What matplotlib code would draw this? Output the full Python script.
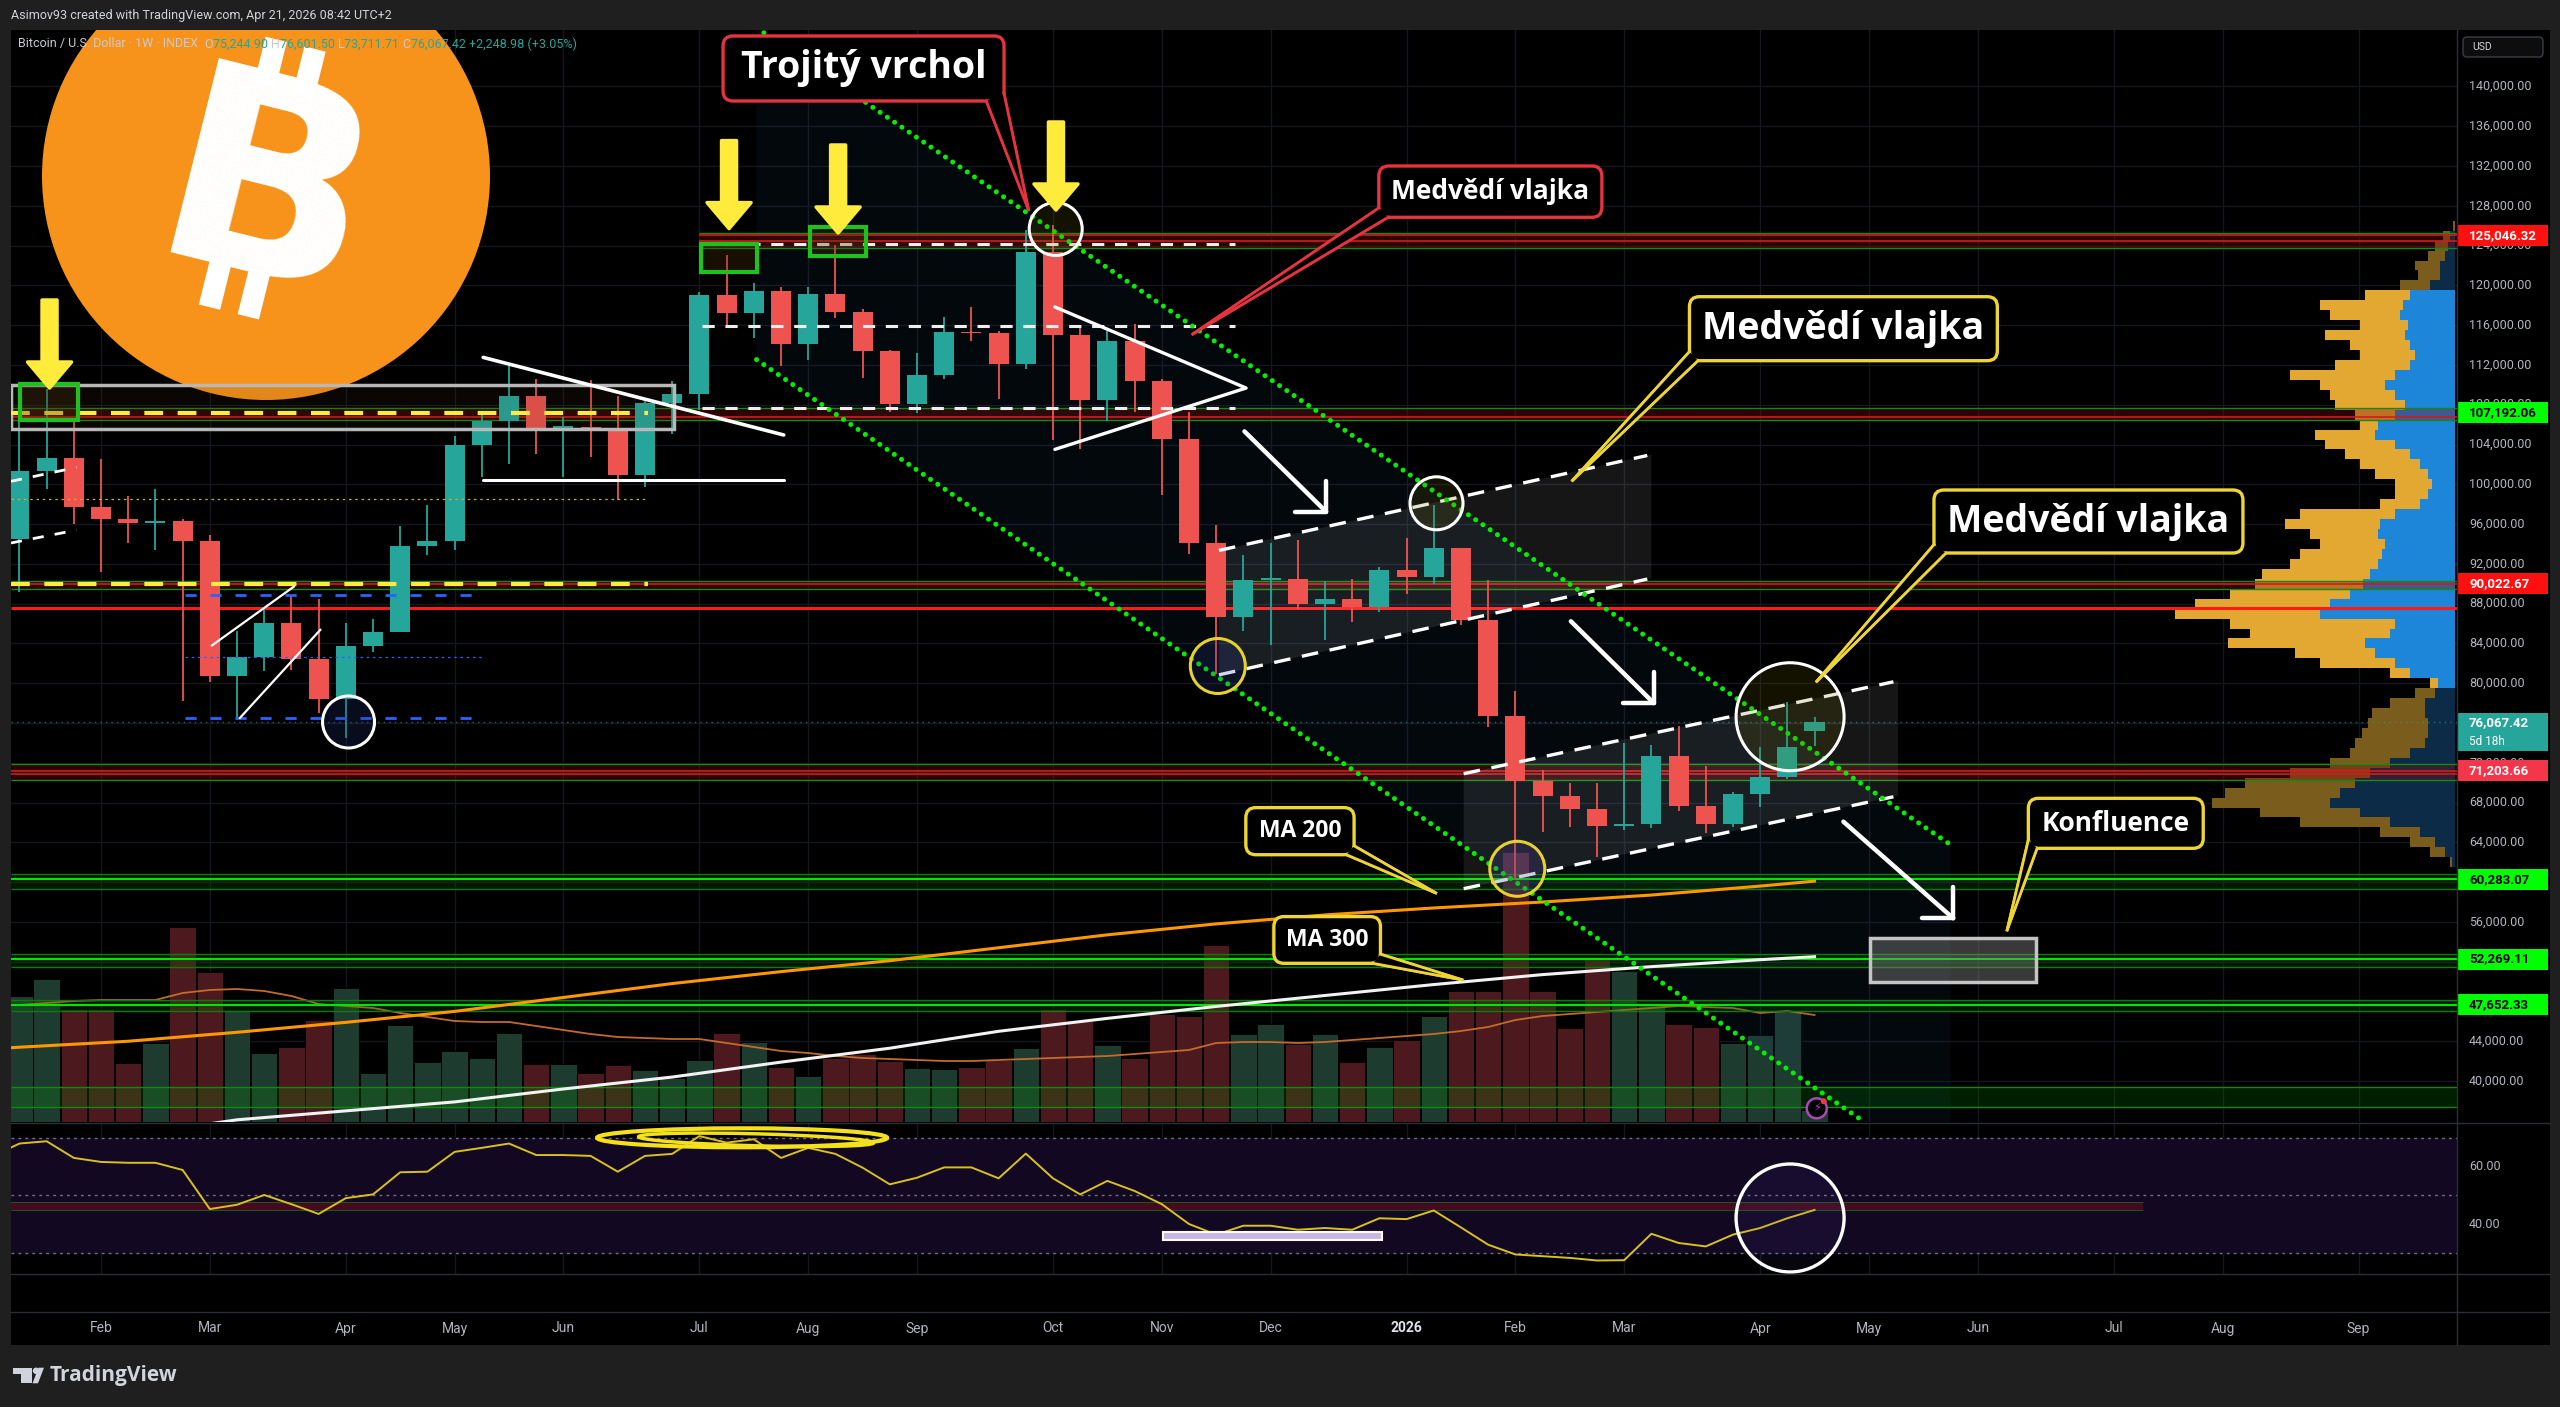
import matplotlib
matplotlib.use("Agg")
import matplotlib.pyplot as plt
from matplotlib.patches import Rectangle, Polygon, FancyBboxPatch, Circle, Ellipse
from matplotlib.lines import Line2D
from matplotlib.transforms import IdentityTransform, blended_transform_factory
import numpy as np

# ======================= DATA =======================
# weekly bars, week 0 = week of 3 Feb 2025
weeks = list(range(-3, 64))
opens = [94500, 101300, 102600, 97700, 96500, 96100, 96300, 94300, 80700, 82600,
         86100, 82400, 78400, 83700, 85100, 93800, 94300, 104000, 106400, 108900,
         105700, 105800, 105500, 100900, 108200, 109100, 119000, 117200, 119400, 114100,
         119100, 117300, 113400, 108100, 111000, 115300, 115200, 112100, 123400, 115000,
         108500, 114400, 110400, 104600, 94100, 86700, 90400, 90500, 88000, 88500,
         87700, 91400, 90700, 93550, 86400, 76700, 70200, 68700, 67400, 65600,
         65800, 72700, 67700, 65800, 68900, 70600, 75244.90]
highs = [106400, 109600, 106400, 102500, 98800, 99500, 96500, 94900, 85300, 87400,
         88800, 88500, 86100, 86500, 95800, 97900, 104900, 107100, 111900, 110600,
         106800, 110500, 108900, 108500, 110400, 119300, 123100, 120200, 119800, 119800,
         124100, 117600, 113500, 113200, 116800, 117800, 115400, 125600, 126100, 116000,
         115400, 116100, 110600, 107300, 95900, 92900, 94100, 94400, 90300, 90500,
         91700, 94600, 97900, 93600, 90400, 79200, 71300, 70000, 70000, 74000,
         73800, 75700, 71700, 69100, 73600, 78100, 76601.50]
lows = [89200, 99500, 96000, 91200, 94100, 93400, 78200, 80100, 76600, 81200,
        81300, 77000, 74500, 83100, 85100, 92900, 93400, 100700, 102000, 103000,
        100700, 102700, 98400, 99700, 105100, 107500, 115700, 114700, 111900, 112500,
        116700, 110700, 107300, 107200, 110600, 114400, 108600, 111600, 104500, 103500,
        106400, 107300, 98900, 93000, 80900, 85300, 83800, 87500, 84300, 86200,
        87200, 89000, 90000, 85900, 75600, 60200, 65000, 65500, 62500, 65200,
        65400, 67200, 64950, 65500, 67600, 70400, 73711.71]
closes = [101300, 102600, 97700, 96500, 96100, 96300, 94300, 80700, 82600, 86100,
          82400, 78400, 83700, 85100, 93800, 94300, 104000, 106400, 108900, 105700,
          105800, 105500, 100900, 108200, 109100, 119000, 117200, 119400, 114100, 119100,
          117300, 113400, 108100, 111000, 115300, 115200, 112100, 123400, 115000, 108500,
          114400, 110400, 104600, 94100, 86700, 90400, 90500, 88000, 88500, 87700,
          91400, 90700, 93550, 86400, 76700, 70200, 68700, 67400, 65600, 65800,
          72700, 67700, 65800, 68900, 70600, 73600, 76067.42]
volume = [126, 143, 113, 113, 59, 79, 195, 150, 111, 69, 75, 102, 134, 49, 97, 60, 71,
          64, 89, 58, 58, 49, 57, 52, 44, 62, 89, 80, 55, 46, 64, 68, 61, 54, 53, 55,
          62, 74, 113, 101, 77, 64, 108, 106, 177, 88, 98, 78, 88, 60, 75, 82, 106,
          131, 131, 270, 131, 94, 164, 151, 117, 98, 95, 79, 87, 112, 12]
volume_ma = [117, 119, 121, 122, 122, 122, 129, 132, 133, 131, 126, 118, 116, 114, 109,
             105, 101, 100, 100, 96, 92, 88, 85, 84, 83, 83, 79, 75, 71, 69, 66, 64, 63,
             62, 61, 61, 62, 63, 64, 65, 66, 68, 70, 72, 79, 80, 80, 79, 80, 82, 84, 86,
             88, 91, 95, 102, 106, 108, 110, 112, 114, 116, 115, 114, 109, 111, 107]
rsi_weeks = list(range(-4, 64))
rsi_values = [63.5, 68.0, 68.8, 63.0, 61.6, 61.3, 61.3, 58.8, 45.2, 46.7, 50.1,
              46.9, 43.5, 49.0, 50.3, 58.0, 58.2, 65.1, 66.5, 68.0, 64.0,
              64.0, 63.7, 58.2, 63.7, 64.4, 70.6, 68.3, 69.5, 63.0, 66.5,
              64.4, 59.6, 53.8, 56.1, 59.7, 59.7, 55.9, 64.5, 55.9, 50.3,
              55.0, 51.5, 46.9, 40.0, 36.3, 39.4, 39.4, 38.0, 38.6, 38.0,
              42.0, 41.7, 44.7, 38.8, 32.8, 29.4, 28.8, 28.2, 27.3, 27.4,
              36.6, 33.4, 32.2, 36.3, 38.6, 42.0, 44.9]
ma200_weeks = [-4, -3, 1, 5, 9, 13, 17, 21, 25, 29, 33, 37, 41, 45, 49, 53, 57, 61, 63]
ma200_values = [43250, 43400, 44000, 44900, 45900, 47000, 48400, 49800, 51000, 52100,
                53400, 54700, 55800, 56700, 57400, 58000, 58700, 59600, 60100]
ma300_weeks = [4, 5, 9, 13, 17, 21, 25, 29, 33, 37, 41, 45, 49, 53, 57, 61, 63]
ma300_values = [35700, 36100, 37000, 37900, 39200, 40400, 41900, 43300, 45000, 46300,
                47500, 48600, 49700, 50700, 51500, 52200, 52500]
month_weeks = [0, 4, 9, 13, 17, 22, 26, 30, 35, 39, 43, 48, 52, 56, 61, 65, 69, 74, 78, 83]
month_labels = ["Feb", "Mar", "Apr", "May", "Jun", "Jul", "Aug", "Sep", "Oct", "Nov", "Dec",
                "2026", "Feb", "Mar", "Apr", "May", "Jun", "Jul", "Aug", "Sep"]
price_ticks = list(range(40000, 140001, 4000))
vp_levels = list(range(62000, 127000, 1000))
vp_total = [5, 25, 45, 75, 155, 195, 243, 230, 210, 165, 125, 105, 100, 93, 87, 83, 65,
            40, 25, 65, 135, 160, 227, 205, 225, 280, 260, 225, 200, 193, 165, 155, 135,
            145, 170, 155, 75, 60, 60, 80, 95, 110, 130, 140, 95, 100, 120, 125, 135, 165,
            120, 95, 105, 130, 95, 125, 135, 90, 55, 37, 40, 27, 20, 12, 2]
vp_up = [3, 10, 20, 35, 65, 95, 125, 115, 100, 85, 65, 45, 30, 27, 27, 30, 30, 20, 17,
         45, 60, 80, 90, 65, 60, 135, 125, 105, 92, 85, 77, 73, 70, 77, 75, 60, 35, 27,
         23, 27, 35, 45, 60, 80, 77, 60, 50, 60, 70, 60, 45, 40, 45, 50, 47, 55, 52, 45,
         25, 15, 15, 10, 7, 5, 0]
tag_values = [125046.32, 107192.06, 90022.67, 71203.66, 60283.07, 52269.11, 47652.33]
tag_colors = ["#ff1010", "#00ff00", "#ff1010", "#f5364a", "#00ff00", "#00ff00", "#00ff00"]
tag_text_colors = ["white", "black", "white", "white", "black", "black", "black"]
change_text = "+2,248.98 (+3.05%)"

# ======================= LAYOUT =======================
W, H, DPI = 2560, 1407, 100
fig = plt.figure(figsize=(W / DPI, H / DPI), dpi=DPI, facecolor="#1f1f1f")
ID = IdentityTransform()
UI = ["Roboto", "DejaVu Sans"]
LBL = ["Open Sans", "DejaVu Sans"]

def rect(x0, y0, x1, y1):
    return [x0 / W, 1 - y1 / H, (x1 - x0) / W, (y1 - y0) / H]

def clean(a):
    a.set_xticks([]); a.set_yticks([])
    for s in a.spines.values():
        s.set_visible(False)

PX0, PX1, SX1 = 11, 2457, 2550
PY0, PY1 = 30, 1122
RY0, RY1 = 1124, 1274
TY0, TY1 = 1312, 1345
XLIM = (-3.31, 86.62)
YLIM = (35880, 145680)
RLIM = (22.6, 74.8)

bg = fig.add_axes(rect(PX0, PY0, SX1, TY1)); bg.set_facecolor("black"); clean(bg); bg.set_zorder(-5)

ax_v = fig.add_axes(rect(PX0, PY0, PX1, PY1)); clean(ax_v); ax_v.patch.set_alpha(0); ax_v.set_zorder(1)
ax_vp = fig.add_axes(rect(PX0, PY0, PX1, PY1)); clean(ax_vp); ax_vp.patch.set_alpha(0); ax_vp.set_zorder(2)
ax = fig.add_axes(rect(PX0, PY0, PX1, PY1)); clean(ax); ax.patch.set_alpha(0); ax.set_zorder(3)
for a in (ax_v, ax):
    a.set_xlim(XLIM)
ax.set_ylim(YLIM)
ax_v.set_ylim(0, PY1 - PY0)
ax_vp.set_xlim(PX1 - PX0 - 2, -2)
ax_vp.set_ylim(YLIM)

def D(w, p, a=None):
    return (a or ax).transData.transform((w, p))

# ---- grid ----
hb = blended_transform_factory(ax_v.transAxes, ax.transData)
for p in price_ticks:
    ax_v.add_line(Line2D([0, 1], [p, p], transform=hb, color="#14171d", lw=1, zorder=0))
for w in month_weeks:
    ax_v.axvline(w, color="#14171d", lw=1, zorder=0)

# ---- volume ----
vcol = ["#1e3b30" if c >= o else "#4c1a1e" for o, c in zip(opens, closes)]
ax_v.bar(weeks, volume, width=0.97, color=vcol, edgecolor="black", lw=0.6, zorder=2)
ax_v.plot(weeks, volume_ma, color="#c46a2a", lw=1.3, zorder=3)

# ---- volume profile ----
for lev, tot, up in zip(vp_levels, vp_total, vp_up):
    va_ = 80000 <= lev <= 119000
    ax_vp.barh(lev, up, height=1000, left=0, color="#1e86d8" if va_ else "#0c2b47", lw=0, zorder=1)
    ax_vp.barh(lev, tot - up, height=1000, left=up, color="#e2a832" if va_ else "#7a5c1c", lw=0, zorder=1)

# ---- descending channel fill ----
up_a, up_b = (24.37, 145400), (68.0, 63760)
lo_a, lo_b = (24.1, 112540), (64.8, 35940)
def on_line(a, b, w):
    return a[1] + (b[1] - a[1]) * (w - a[0]) / (b[0] - a[0])
chan = [(lo_a[0], on_line(up_a, up_b, lo_a[0])), up_b, (up_b[0], YLIM[0]), (lo_b[0], YLIM[0]), lo_a]
ax.add_patch(Polygon(chan, closed=True, facecolor=(0.15, 0.35, 0.6, 0.09), edgecolor="none", zorder=1))

# ---- horizontal zones ----
red_zones = [(123800, 125300, [125046, 124500], 22), (106450, 107650, [106800], XLIM[0]),
             (89500, 90300, [89950], XLIM[0]), (70310, 71880, [71204, 70900], XLIM[0])]
for lo, hi, reds, x0 in red_zones:
    ax.fill_between([x0, XLIM[1]], lo, hi, color=(0.5, 0.03, 0.05, 0.35), lw=0, zorder=1.2)
    ax.hlines([lo, hi], x0, XLIM[1], colors="#138a13", lw=1, zorder=1.3)
    ax.hlines(reds, x0, XLIM[1], colors="#d01c1c", lw=1.2, zorder=1.3)
green_zones = [(59300, 60800, 60283), (51500, 52800, 52269), (47000, 48150, 47652)]
for lo, hi, mid in green_zones:
    ax.fill_between(XLIM, lo, hi, color=(0.0, 0.45, 0.0, 0.22), lw=0, zorder=1.2)
    ax.hlines([lo, hi], *XLIM, colors="#0f7a0f", lw=1, zorder=1.3)
    ax.hlines(mid, *XLIM, colors="#00e600", lw=1.5, zorder=1.3)
ax.fill_between(XLIM, 37420, 39370, color=(0.0, 0.6, 0.0, 0.2), lw=0, zorder=1.2)
ax.hlines([37420, 39370], *XLIM, colors="#0f8a0f", lw=1, zorder=1.3)
ax.hlines(87580, *XLIM, colors="#ff1a1a", lw=2.2, zorder=1.4)
ax.hlines(closes[-1], *XLIM, colors="#26a69a", lw=1, linestyles=(0, (1, 3)), alpha=0.6, zorder=1.4)

# ---- bitcoin logo ----
cx, cy = 266, H - 176
ax.add_patch(Circle((cx, cy), 224, transform=ID, facecolor="#f7931a", edgecolor="none", zorder=1.8))
ang = np.deg2rad(-14)
RM = np.array([[np.cos(ang), -np.sin(ang)], [np.sin(ang), np.cos(ang)]])
bcx, bcy = 270, H - 180
def rot(dx, dy):
    v = RM @ np.array([dx, dy])
    return (bcx + v[0], bcy + v[1])
hB = 200
bx, by = rot(0, -hB / 2)
ax.text(bx, by, "B", transform=ID, fontsize=197, fontweight="bold", color="white", ha="center",
        va="baseline", rotation=-14, rotation_mode="anchor", family="DejaVu Sans", zorder=1.9, clip_on=True)
for bxo in (-28, 12):
    for ya, yb in ((hB / 2 - 10, hB / 2 + 38), (-hB / 2 - 38, -hB / 2 + 10)):
        pts = [rot(bxo - 11, ya), rot(bxo + 11, ya), rot(bxo + 11, yb), rot(bxo - 11, yb)]
        ax.add_patch(Polygon(pts, transform=ID, facecolor="white", edgecolor="none", zorder=1.9))

# ---- bear flag fills ----
ax.add_patch(Polygon([(41.1, 80840), (57.0, 90560), (57.0, 102990), (41.1, 93350)], facecolor=(1, 1, 1, 0.09), edgecolor="none", zorder=1.5))
ax.add_patch(Polygon([(50.1, 59340), (66.07, 68680), (66.07, 80240), (50.1, 70900)], facecolor=(1, 1, 1, 0.09), edgecolor="none", zorder=1.5))

# ---- moving averages ----
ax.plot(ma200_weeks, ma200_values, color="#ff9800", lw=2.2, zorder=3)
ax.plot(ma300_weeks, ma300_values, color="#f2f2f2", lw=2.2, zorder=3)

# ---- candles ----
ccol = ["#26a69a" if c >= o else "#ef5350" for o, c in zip(opens, closes)]
ax.vlines(weeks, lows, highs, colors=ccol, lw=1.3, zorder=4.9)
bodies = [max(abs(c - o), 150) for o, c in zip(opens, closes)]
ax.bar(weeks, bodies, bottom=[min(o, c) for o, c in zip(opens, closes)], width=0.74, color=ccol, lw=0, zorder=5)

# ---- drawings helpers ----
def dl(pts, color, lw, dashes=None, z=6, a=None):
    a = a or ax
    xs, ys = zip(*pts)
    ln, = a.plot(xs, ys, color=color, lw=lw, zorder=z, solid_capstyle="round")
    if dashes:
        ln.set_dashes(dashes)
    return ln

def circ(center, r, edge, face, lw=2.2, a=None, z=7):
    a = a or ax
    c = a.transData.transform(center)
    a.add_patch(Circle(c, r, transform=ID, facecolor=face, edgecolor=edge, lw=lw, zorder=z))

def block_arrow(tip, length=88, shaft=15, head_w=44, head_l=26):
    tx, ty = D(*tip)
    pts = [(tx, ty), (tx - head_w / 2, ty + head_l), (tx - shaft / 2, ty + head_l), (tx - shaft / 2, ty + length),
           (tx + shaft / 2, ty + length), (tx + shaft / 2, ty + head_l), (tx + head_w / 2, ty + head_l)]
    ax.add_patch(Polygon(pts, closed=True, transform=ID, facecolor="#ffeb3b", edgecolor="#ffeb3b", lw=2.5, joinstyle="round", zorder=8))

def white_arrow(tail, tip):
    x0, y0 = D(*tail); x1, y1 = D(*tip)
    for seg in (((x0, y0), (x1, y1)), ((x1, y1), (x1, y1 + 31)), ((x1, y1), (x1 - 31, y1))):
        (a1, b1), (a2, b2) = seg
        ax.add_line(Line2D([a1, a2], [b1, b2], transform=ID, color="white", lw=3.2, solid_capstyle="round", zorder=7))

def callout(text, box, b1, b2, tip, edge, fs):
    x0, y0 = D(box[0], box[3]); x1, y1 = D(box[2], box[1])
    p1, p2, pt = D(*b1), D(*b2), D(*tip)
    ax.add_patch(Polygon([p1, pt, p2], closed=True, transform=ID, facecolor="black", edgecolor=edge, lw=2, zorder=9))
    ax.add_patch(FancyBboxPatch((x0, y0), x1 - x0, y1 - y0, boxstyle="round,pad=0,rounding_size=10", transform=ID,
                                facecolor="black", edgecolor=edge, lw=2.4, zorder=9.1))
    ax.add_patch(Polygon([p1, pt, p2], closed=True, transform=ID, facecolor="black", edgecolor="none", zorder=9.2))
    for q in (p1, p2):
        ax.add_line(Line2D([q[0], pt[0]], [q[1], pt[1]], transform=ID, color=edge, lw=2, zorder=9.3))
    ax.text((box[0] + box[2]) / 2, (box[1] + box[3]) / 2, text, ha="center", va="center", color="white",
            fontsize=fs, fontweight="bold", family=LBL, zorder=9.5)

# ---- left-side drawings ----
ax.add_patch(Rectangle((-3.31, 105561), 24.38, 4424, facecolor=(0.3, 0.2, 0.1, 0.12), edgecolor="#b8b8b8", lw=2.5, zorder=6))
dl([(-3.31, 107192), (20.1, 107192)], "#ffeb3b", 3, dashes=(4.5, 3.5))
dl([(-3.31, 90023), (20.1, 90023)], "#ffeb3b", 3, dashes=(4.5, 3.5))
dl([(-3.31, 98500), (20.1, 98500)], "#c8b020", 0.9, dashes=(2, 3))
dl([(3.1, 88870), (14.1, 88870)], "#2962ff", 2, dashes=(4, 5))
dl([(3.1, 76500), (14.1, 76500)], "#2962ff", 2, dashes=(4, 5))
dl([(3.1, 82600), (14.1, 82600)], "#2962ff", 0.9, dashes=(2, 3))
dl([(-3.31, 100300), (-0.9, 101700)], "white", 2, dashes=(4, 4))
dl([(-3.31, 94100), (-0.9, 95400)], "white", 2, dashes=(4, 4))
dl([(4.07, 83780), (7.1, 89730)], "white", 1.6)
dl([(5.1, 76490), (8.07, 85390)], "white", 1.6)
dl([(14.05, 112760), (25.1, 104960)], "white", 2.6)
dl([(14.05, 100470), (25.1, 100470)], "white", 2.2)
circ((9.10, 76100), 26, "white", (0.15, 0.2, 0.45, 0.25))
ax.add_patch(Rectangle((-2.963, 106466), 2.103, 3619, facecolor=(0.3, 0.2, 0.05, 0.3), edgecolor="#1ec21e", lw=3, zorder=7))
block_arrow((-1.893, 109683))

# ---- top drawings ----
for lvl in (124200, 115960, 107670):
    dl([(22.1, lvl), (41.7, lvl)], "#eeeeee", 2.2, dashes=(4, 3.5))
ax.add_patch(Rectangle((22.06, 121347), 2.06, 2816, facecolor=(0.3, 0.2, 0.05, 0.3), edgecolor="#1ec21e", lw=3, zorder=7))
ax.add_patch(Rectangle((26.07, 122906), 2.04, 2926, facecolor=(0.3, 0.2, 0.05, 0.3), edgecolor="#1ec21e", lw=3, zorder=7))
for tip in ((23.09, 125711), (27.10, 125269), (35.11, 127582)):
    block_arrow(tip)
circ((35.10, 125671), 26.5, "white", (0.45, 0.42, 0.0, 0.17))
dl([(35.07, 117830), (42.1, 109680), (35.07, 103510)], "white", 2.4)

# ---- channel dotted lines ----
for a_, b_ in ((up_a, up_b), (lo_a, lo_b)):
    ln = dl([a_, b_], "#00f000", 3.6, z=6.5)
    ln.set_dashes((0.01, 1.75)); ln.set_dash_capstyle("round")

# ---- bear flags ----
for pts in ([(41.1, 80840), (56.85, 90470)], [(41.1, 93350), (56.85, 102900)],
            [(50.1, 59340), (65.9, 68580)], [(50.1, 70900), (65.9, 80140)]):
    dl(pts, "white", 2.4, dashes=(5, 3.5))
circ((41.06, 81730), 27.5, "#e6d22a", (0.2, 0.25, 0.6, 0.2))
circ((49.1, 98090), 26.5, "white", (0.45, 0.42, 0.0, 0.17))
circ((52.07, 61340), 27.5, "#e6d22a", (0.3, 0.25, 0.6, 0.25))
circ((62.1, 76630), 54, "white", (0.45, 0.42, 0.0, 0.17))
white_arrow((42.04, 105320), (45.04, 97250))
white_arrow((54.04, 86230), (57.09, 78000))
white_arrow((64.06, 66080), (68.1, 56360))
ax.add_patch(Rectangle((65.04, 49990), 6.09, 4360, facecolor=(0.5, 0.5, 0.5, 0.45), edgecolor="#c4c4c4", lw=2.5, zorder=7))

# lightning icon
lx, ly = D(63.08, 37257)
ax.add_patch(Circle((lx, ly), 10, transform=ID, facecolor="black", edgecolor="#ab47bc", lw=1.8, zorder=8))
ax.text(lx, ly, "\u26a1", transform=ID, ha="center", va="center", color="#ab47bc", fontsize=8, family="DejaVu Sans", zorder=8.1)
ax.add_patch(Circle((lx + 7, ly + 7), 3, transform=ID, facecolor="#f23645", edgecolor="none", zorder=8.2))

# ---- callouts ----
RED, YEL = "#e8323f", "#eed534"
callout("Trojitý vrchol", (22.87, 145078, 33.20, 138542), (32.55, 138542), (33.20, 139300), (34.10, 127602), RED, 27)
callout("Medvědí vlajka", (46.98, 132006, 55.18, 126848), (46.98, 127783), (47.32, 126848), (40.14, 115113), RED, 19)
callout("Medvědí vlajka", (58.40, 118864, 69.72, 112429), (58.40, 113334), (58.71, 112429), (54.10, 100393), YEL, 27)
callout("Medvědí vlajka", (67.39, 99427, 78.75, 93092), (67.39, 93927), (67.83, 93092), (63.08, 80192), YEL, 27)
callout("Konfluence", (70.86, 68426, 77.29, 63398), (70.86, 64233), (71.18, 63398), (70.08, 55185), YEL, 19)
callout("MA 200", (42.09, 67490, 46.07, 62754), (45.79, 62754), (46.07, 63649), (49.07, 58916), YEL, 16.5)
callout("MA 300", (43.12, 56532, 47.04, 51836), (46.76, 51836), (47.04, 52751), (50.04, 50177), YEL, 16.5)

# ======================= RSI PANE =======================
axr = fig.add_axes(rect(PX0, RY0, PX1, RY1)); clean(axr); axr.set_facecolor("black")
axr.set_xlim(XLIM); axr.set_ylim(RLIM)
for w in month_weeks:
    axr.axvline(w, color="#14171d", lw=1, zorder=0)
axr.axhspan(30, 70, color="#120822", zorder=0.5)
axr.fill_between([XLIM[0], 75.07], 44.7, 47.8, color="#46091f", lw=0, zorder=1)
axr.hlines([44.7, 47.8], XLIM[0], 75.07, colors="#17561c", lw=0.8, zorder=1.1)
for lv in (70, 50, 30):
    axr.axhline(lv, color="#6f727c", lw=1, ls=(0, (2, 3)), zorder=1.2)
axr.plot(rsi_weeks, rsi_values, color="#d8c21a", lw=1.4, zorder=3)
rx0, rx1 = D(39.04, 37.22, axr), D(47.10, 34.43, axr)
axr.add_patch(Rectangle((rx0[0], rx1[1]), rx1[0] - rx0[0], rx0[1] - rx1[1], transform=ID, facecolor="#c9b6e4", edgecolor="white", lw=1.5, zorder=4))
ec = D(23.57, 70.0, axr)
axr.add_patch(Ellipse(ec, 290, 19, transform=ID, facecolor="none", edgecolor="#f5e11a", lw=3, zorder=4))
axr.add_patch(Ellipse((ec[0] + 14, ec[1] - 2), 235, 12, angle=-1.5, transform=ID, facecolor="none", edgecolor="#f5e11a", lw=2.5, zorder=4))
circ((62.10, 42.09), 54, "white", (0.4, 0.3, 0.8, 0.08), lw=2.4, a=axr)

# ======================= TIME AXIS =======================
axt = fig.add_axes(rect(PX0, TY0, PX1, TY1)); clean(axt); axt.set_facecolor("black")
axt.set_xlim(XLIM); axt.set_ylim(0, 1)
for w, lab in zip(month_weeks, month_labels):
    isyear = lab.isdigit()
    axt.text(w, 0.5, lab, ha="center", va="center", fontsize=10, family=UI,
             color="#e0e3eb" if isyear else "#b2b5be", fontweight="bold" if isyear else "normal")

# ======================= PRICE SCALE =======================
axs = fig.add_axes(rect(PX1, PY0, SX1, PY1)); clean(axs); axs.set_facecolor("black")
axs.set_xlim(0, SX1 - PX1); axs.set_ylim(YLIM)
pp = (YLIM[1] - YLIM[0]) / (PY1 - PY0)
for p in price_ticks:
    axs.text(12, p, f"{p:,.2f}", va="center", ha="left", color="#b2b5be", fontsize=9, family=UI)
for val, bc, tc in zip(tag_values, tag_colors, tag_text_colors):
    axs.add_patch(Rectangle((0, val - 10.5 * pp), 91, 21 * pp, facecolor=bc, edgecolor="none", zorder=3))
    axs.text(12, val, f"{val:,.2f}", va="center", ha="left", color=tc, fontsize=9.5, family=UI, fontweight="bold", zorder=4)
lp = closes[-1]
axs.add_patch(Rectangle((0, lp - 29 * pp), 91, 38 * pp, facecolor="#26a69a", edgecolor="none", zorder=3))
axs.text(12, lp, f"{lp:,.2f}", va="center", ha="left", color="white", fontsize=9.5, family=UI, fontweight="bold", zorder=4)
axs.text(12, lp - 19 * pp, "5d 18h", va="center", ha="left", color="white", fontsize=8.5, family=UI, zorder=4)
fig.add_artist(FancyBboxPatch((2463, H - 57), 80, 20, boxstyle="round,pad=0,rounding_size=4", transform=ID,
                              facecolor="#0d0d0d", edgecolor="#3a3d45", lw=1, zorder=20))
fig.text(2472 / W, 1 - 47 / H, "USD", color="#d1d4dc", fontsize=7.5, family=UI, va="center", zorder=21)

axrs = fig.add_axes(rect(PX1, RY0, SX1, RY1)); clean(axrs); axrs.set_facecolor("black")
axrs.set_xlim(0, SX1 - PX1); axrs.set_ylim(RLIM)
for lv in (60, 40):
    axrs.text(12, lv, f"{lv:.2f}", va="center", ha="left", color="#b2b5be", fontsize=9, family=UI)

# separators
for yy in (1123, 1274, 1312):
    fig.add_artist(Line2D([PX0, SX1], [H - yy, H - yy], transform=ID, color="#2a2e39", lw=1, zorder=15))
fig.add_artist(Line2D([PX1, PX1], [H - PY0, H - TY1], transform=ID, color="#2a2e39", lw=1, zorder=15))

# ======================= TEXTS =======================
fig.text(11 / W, 1 - 16 / H, "Asimov93 created with TradingView.com, Apr 21, 2026 08:42 UTC+2",
         color="#d1d4dc", fontsize=9, family=UI, va="center", ha="left", zorder=20)
rend = fig.canvas.get_renderer()
segs = [("Bitcoin / U.S. Dollar \u00b7 1W \u00b7 INDEX  ", "#c8cbd3"),
        ("O", "#c8cbd3"), (f"{opens[-1]:,.2f} ", "#26a69a"),
        ("H", "#c8cbd3"), (f"{highs[-1]:,.2f} ", "#26a69a"),
        ("L", "#c8cbd3"), (f"{lows[-1]:,.2f} ", "#26a69a"),
        ("C", "#c8cbd3"), (f"{closes[-1]:,.2f} ", "#26a69a"),
        (change_text, "#26a69a")]
xpos = 18
for s, c in segs:
    t = fig.text(xpos / W, 1 - 44 / H, s, color=c, fontsize=9, family=UI, va="center", ha="left", zorder=20)
    xpos += t.get_window_extent(renderer=rend).width

# TradingView watermark (bottom bar)
fig.add_artist(Polygon([(12.7, H - 1367.7), (31.7, H - 1367.7), (31.7, H - 1383.3), (21.0, H - 1383.3),
                        (21.0, H - 1374.0), (12.7, H - 1374.0)], transform=ID, facecolor="#d1d4dc", edgecolor="none", zorder=20))
fig.add_artist(Circle((36.0, H - 1370.8), 3.2, transform=ID, facecolor="#d1d4dc", edgecolor="none", zorder=20))
fig.add_artist(Polygon([(38.5, H - 1367.7), (44.0, H - 1367.7), (38.0, H - 1383.3), (32.5, H - 1383.3)],
                       transform=ID, facecolor="#d1d4dc", edgecolor="none", zorder=20))
fig.text(50 / W, 1 - 1376 / H, "TradingView", color="#d1d4dc", fontsize=15, fontweight="bold",
         family=LBL, va="center", ha="left", zorder=20)

fig.savefig("out.png", dpi=DPI, facecolor=fig.get_facecolor())
